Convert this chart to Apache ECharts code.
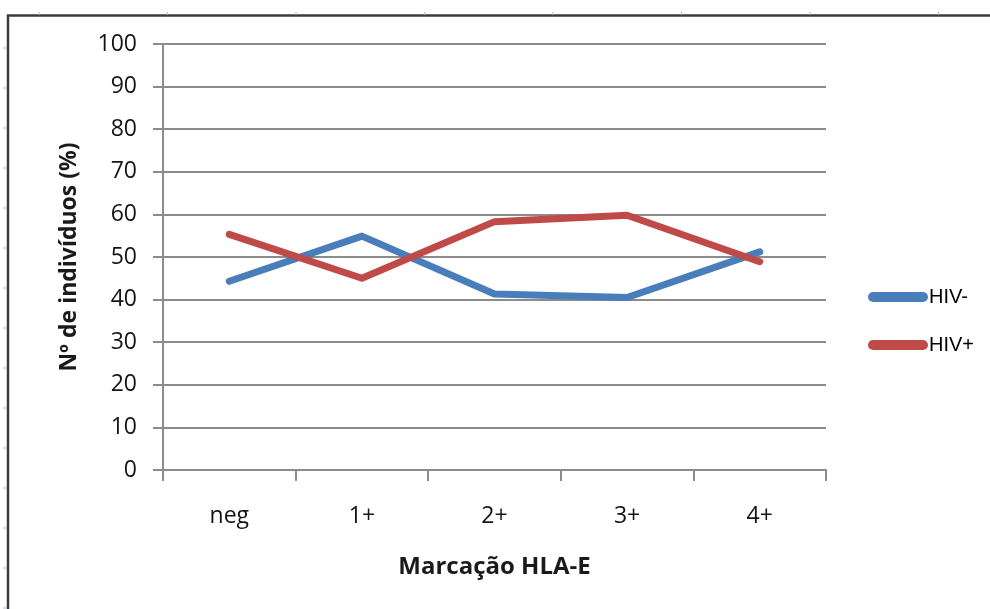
<!DOCTYPE html>
<html>
<head>
<meta charset="utf-8">
<script src="https://cdn.jsdelivr.net/npm/echarts@6/dist/echarts.min.js"></script>
<style>
  html, body { margin: 0; padding: 0; background: #ffffff; }
  #chart { width: 990px; height: 609px; }
</style>
</head>
<body>
<div id="chart"></div>
<script>
// HLA-E staining categories and share of individuals (%) per group
const categories = ['neg', '1+', '2+', '3+', '4+'];
const hivNeg = [44.3, 54.9, 41.3, 40.5, 51.2];
const hivPos = [55.3, 45.0, 58.3, 59.8, 48.9];
const yTicks = { min: 0, max: 100, interval: 10 };

const font = 'Open Sans';
const gridColor = '#8c8c8c';
// pill-shaped legend swatch
const pillIcon = 'path://M5,0H55A5,5 0 0 1 55,10H5A5,5 0 0 1 5,0Z';

// faint ruler marks around the page frame
const rulerMarks = [];
for (let y = 48; y < 609; y += 40) {
  rulerMarks.push({ type: 'line', shape: { x1: 3, y1: y, x2: 7, y2: y },
    style: { stroke: '#b4bcd8', lineWidth: 1 }, silent: true });
}
for (let x = 39; x < 990; x += 128.5) {
  rulerMarks.push({ type: 'line', shape: { x1: x, y1: 12, x2: x, y2: 15 },
    style: { stroke: '#b4bcd8', lineWidth: 1 }, silent: true });
}

const chart = echarts.init(document.getElementById('chart'), null, { renderer: 'canvas' });
chart.setOption({
  backgroundColor: '#ffffff',
  animation: false,
  graphic: [
    { type: 'polyline', shape: { points: [[8, 620], [8, 15.5], [1000, 15.5]] },
      style: { stroke: '#3c3c3c', lineWidth: 2.5, fill: null }, silent: true },
    ...rulerMarks
  ],
  grid: { left: 163, right: 164, top: 44, bottom: 139, containLabel: false },
  legend: {
    orient: 'vertical',
    left: 863,
    top: 282,
    itemWidth: 60,
    itemHeight: 10,
    itemGap: 28,
    icon: pillIcon,
    textStyle: { fontFamily: 'Arial, "Liberation Sans", sans-serif', fontSize: 20, color: '#000', padding: [0, 0, 0, -4] },
    data: ['HIV-', 'HIV+']
  },
  xAxis: {
    type: 'category',
    data: categories,
    boundaryGap: true,
    name: 'Marcação HLA-E',
    nameLocation: 'middle',
    nameGap: 85,
    nameTextStyle: { fontFamily: font, fontSize: 24, fontWeight: 'bold', color: '#1a1a1a' },
    axisLine: { lineStyle: { color: gridColor, width: 2 } },
    axisTick: { show: true, length: 11, lineStyle: { color: gridColor, width: 2 } },
    axisLabel: { fontFamily: font, fontSize: 23, color: '#141414', margin: 35 },
    splitLine: { show: false }
  },
  yAxis: {
    type: 'value',
    min: yTicks.min,
    max: yTicks.max,
    interval: yTicks.interval,
    name: 'Nº de indivíduos (%)',
    nameLocation: 'middle',
    nameGap: 82,
    nameTextStyle: { fontFamily: font, fontSize: 23, fontWeight: 'bold', color: '#1a1a1a' },
    axisLine: { show: true, lineStyle: { color: gridColor, width: 2 } },
    axisTick: { show: true, length: 10, lineStyle: { color: gridColor, width: 2 } },
    axisLabel: { fontFamily: font, fontSize: 23, color: '#141414', margin: 26 },
    splitLine: { show: true, lineStyle: { color: gridColor, width: 2 } }
  },
  series: [
    {
      name: 'HIV-', type: 'line', data: hivNeg, symbol: 'none', smooth: false,
      itemStyle: { color: '#4a7ebb' },
      lineStyle: { color: '#4a7ebb', width: 7, cap: 'round', join: 'round' }
    },
    {
      name: 'HIV+', type: 'line', data: hivPos, symbol: 'none', smooth: false,
      itemStyle: { color: '#be4b48' },
      lineStyle: { color: '#be4b48', width: 7, cap: 'round', join: 'round' }
    }
  ]
});
</script>
</body>
</html>
